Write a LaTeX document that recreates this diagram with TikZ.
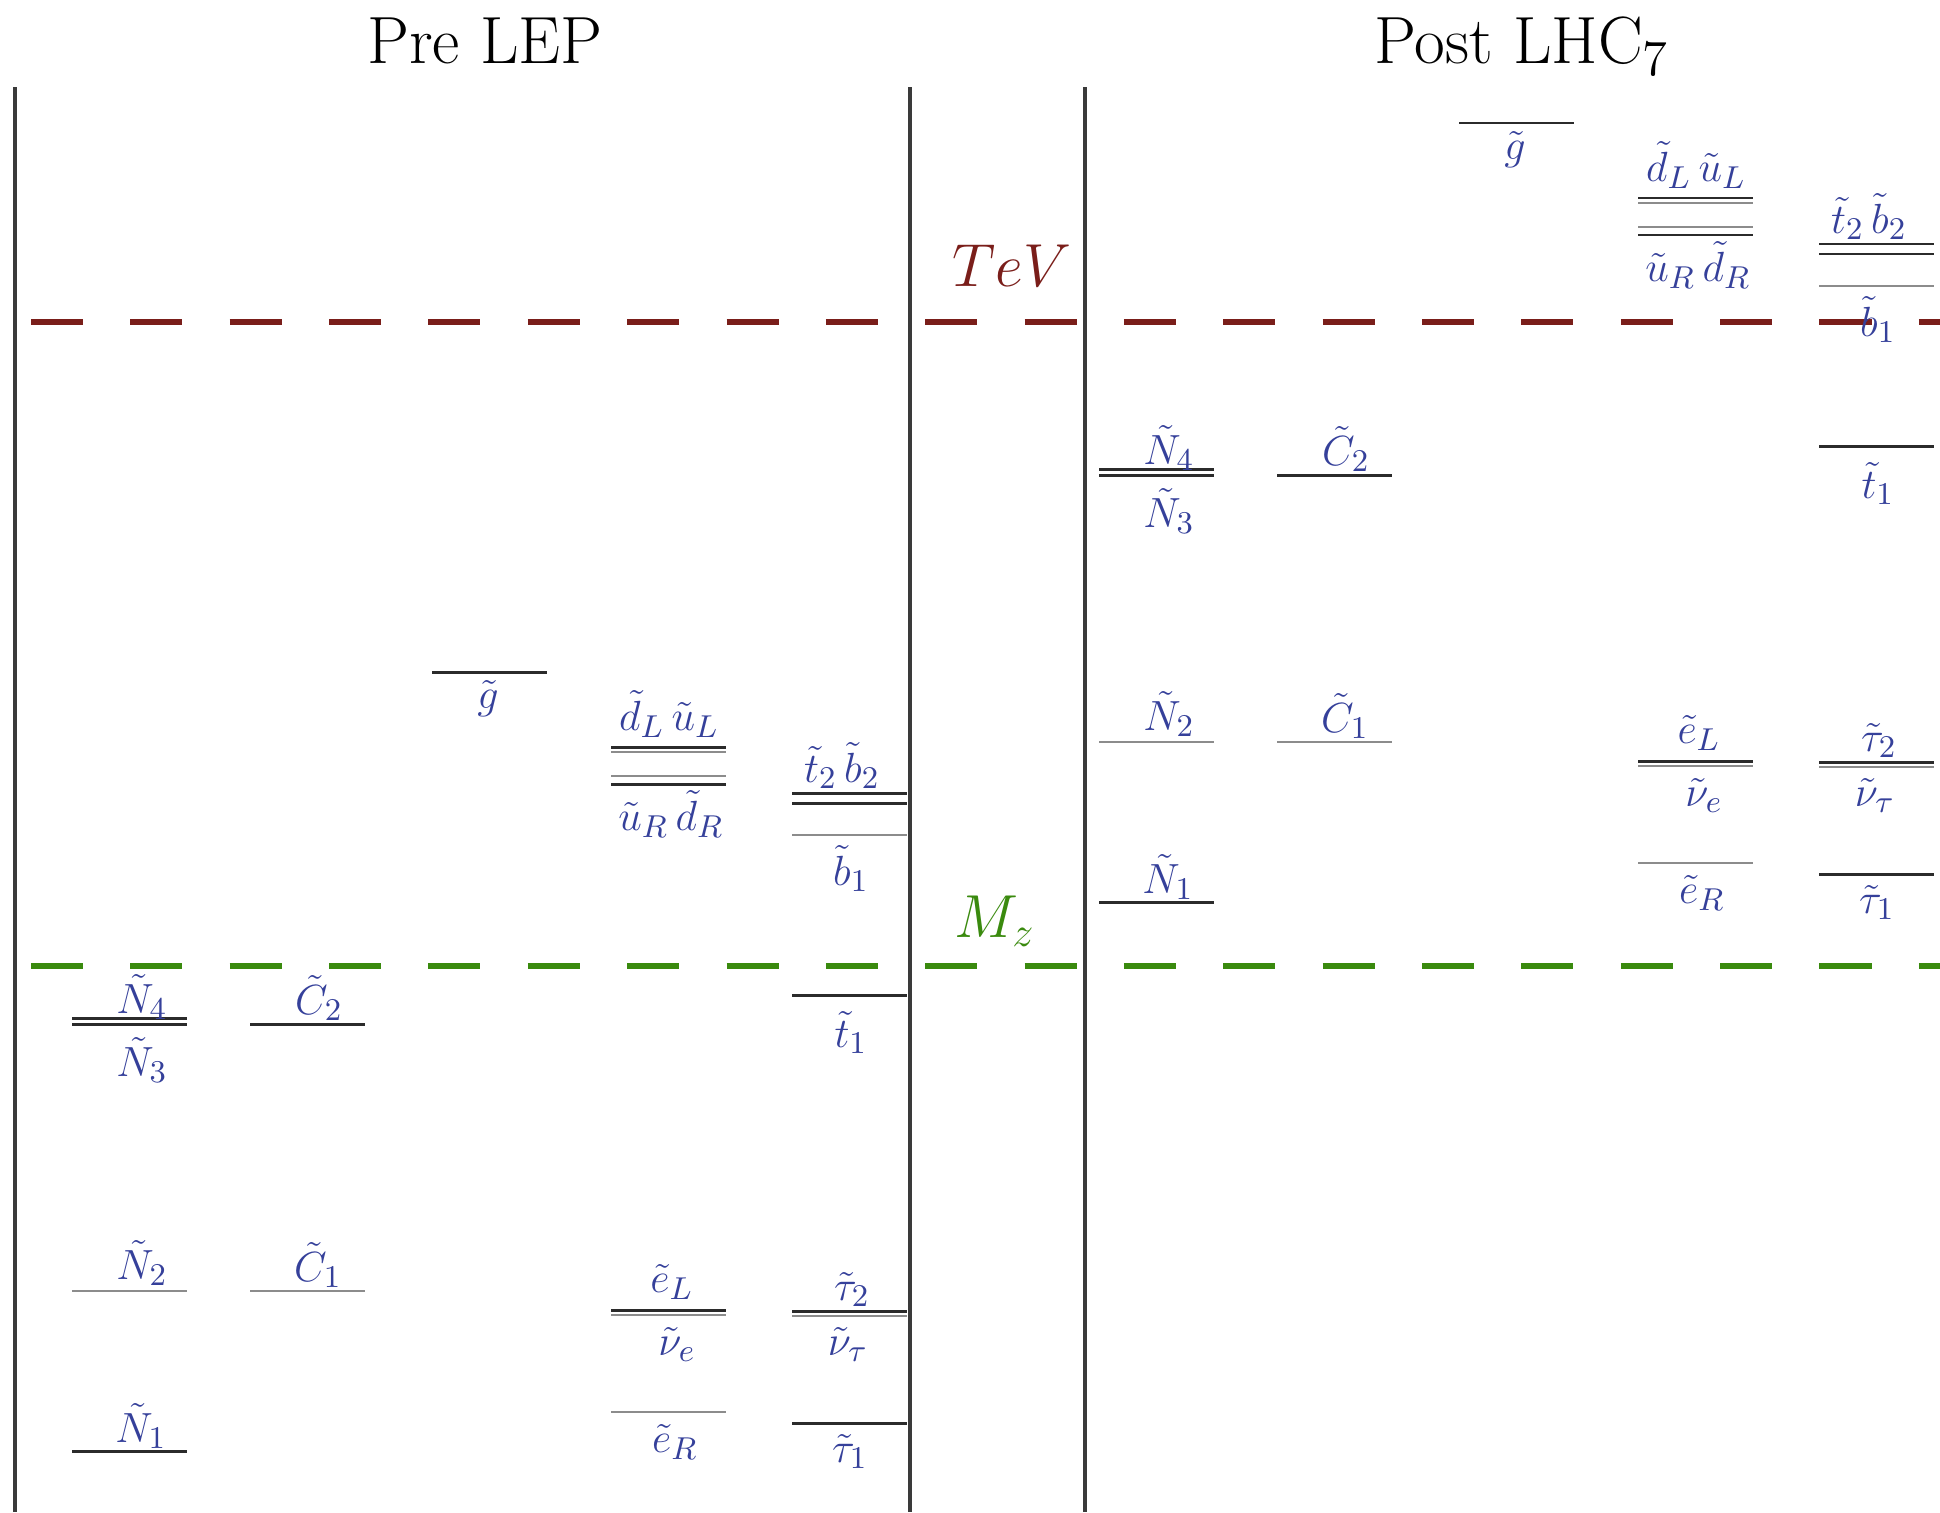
\documentclass[tikz,border=0pt]{standalone}
\usepackage{amsmath}
\usepackage{amssymb}
\usepackage{xcolor}
\usepackage{tikz}
\usetikzlibrary{positioning}
\definecolor{spdark}{HTML}{2B2B2B}
\definecolor{spgrey}{HTML}{8C8C8C}
\definecolor{spframe}{HTML}{3A3A3A}
\definecolor{spblue}{HTML}{35409A}
\definecolor{tevred}{HTML}{7A1E1A}
\definecolor{mzgreen}{HTML}{3A8A0E}

\begin{document}
\begin{tikzpicture}[x=0.01cm, y=-0.01cm,
  lvlheavy/.style={draw=spdark, line width=0.85pt},
  lvlthin/.style={draw=spgrey, line width=0.6pt},
  lvllabel/.style={font=\fontsize{12.5}{14}\selectfont\color{spblue}, anchor=base, inner sep=0pt},
  scaleline/.style={line width=1.6pt, dash pattern=on 0.52cm off 0.473cm},
]
\useasboundingbox (0,0) rectangle (1940,1512);
\def\lw{115}

% mass scales
\draw[scaleline, draw=tevred] (31,322) -- (1940,322);
\draw[scaleline, draw=mzgreen] (31,966) -- (1940,966);
\node[font=\fontsize{18}{20}\selectfont\color{tevred}, anchor=base] (tev) at (1012,286) {$TeV$};
\node[font=\fontsize{18}{20}\selectfont\color{mzgreen}, anchor=base] (mz) at (995,937) {$M_z$};

% frame
\foreach \xf in {15,910,1085}
  \draw[draw=spframe, line width=0.95pt] (\xf,87) -- (\xf,1512);

\node[font=\fontsize{19}{23}\selectfont, anchor=base] (prelep) at (485,64) {Pre LEP};
\node[font=\fontsize{19}{23}\selectfont, anchor=base] (postlhc) at (1522,64) {Post LHC$_7$};

% same spectrum, pushed up after LHC
\foreach \p/\offx/\offy in {pre/0/0, post/1027/-549} {
  \begin{scope}[shift={(\offx,\offy)}]
    \foreach \xa/\y/\sty in {%
      72/1018/lvlheavy, 72/1024/lvlheavy, 72/1291/lvlthin, 72/1451/lvlheavy,
      250/1024/lvlheavy, 250/1291/lvlthin,
      432/672/lvlheavy,
      611/747/lvlheavy, 611/752/lvlthin, 611/776/lvlthin, 611/784/lvlheavy,
      611/1310/lvlheavy, 611/1315/lvlthin, 611/1412/lvlthin,
      792/793/lvlheavy, 792/803/lvlheavy, 792/835/lvlthin, 792/995/lvlheavy,
      792/1311/lvlheavy, 792/1316/lvlthin, 792/1423/lvlheavy%
    }
      \draw[\sty] (\xa,\y) -- ++(\lw,0);
    \foreach \nm/\xc/\yb/\txt in {%
      N4/142/1013/{\tilde N_4},
      N3/142/1076/{\tilde N_3},
      C2/319/1014/{\tilde C_2},
      N2/142/1279/{\tilde N_2},
      C1/318/1281/{\tilde C_1},
      N1/141/1442/{\tilde N_1},
      go/488/708/{\tilde g},
      sqL/669/730/{\tilde d_L\,\tilde u_L},
      sqR/671/830/{\tilde u_R\,\tilde d_R},
      t2b2/842/782/{\tilde t_2\,\tilde b_2},
      b1/851/885/{\tilde b_1},
      t1/851/1047/{\tilde t_1},
      eL/672/1292/{\tilde e_L},
      nue/677/1355/{\tilde\nu_e},
      eR/675/1452/{\tilde e_R},
      ta2/852/1300/{\tilde\tau_2},
      nut/848/1355/{\tilde\nu_\tau},
      ta1/850/1462/{\tilde\tau_1}%
    }
      \node[lvllabel] (\p-\nm) at (\xc,\yb) {$\txt$};
  \end{scope}
}
\end{tikzpicture}
\end{document}
